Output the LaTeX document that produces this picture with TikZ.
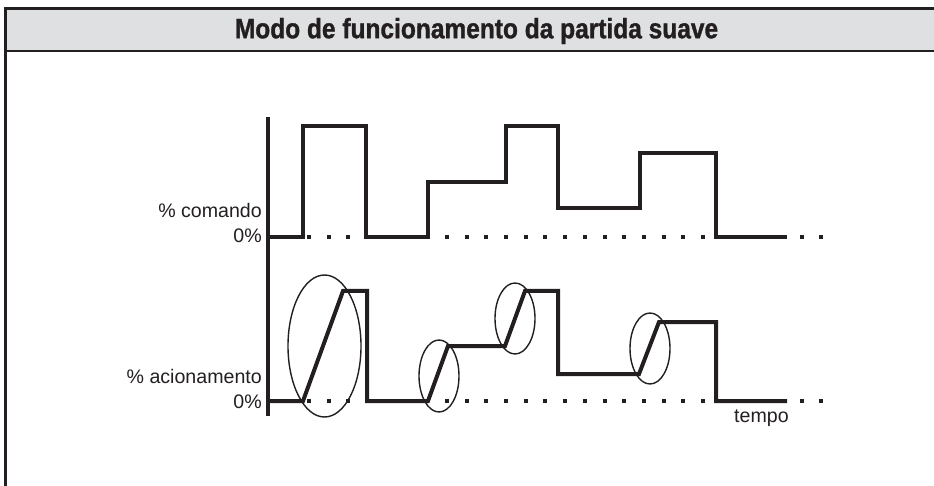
\documentclass[tikz,border=0pt]{standalone}
\usepackage{fontspec}
\setmainfont{Liberation Sans}
\newfontfamily\titlefont[FakeStretch=0.875, BoldFeatures={FakeBold=1.2}]{Liberation Sans}
\definecolor{tinta}{HTML}{231F20}
\definecolor{faixa}{HTML}{DFE0E1}

\begin{document}
\begin{tikzpicture}[x=1pt,y=-1pt]
  \tikzset{
    sinal/.style={
      draw=tinta,
      line width=4pt
    },
    elipse/.style={
      draw=tinta,
      line width=1.4pt
    },
    rotulo/.style={
      inner sep=0pt,
      text=tinta,
      font=\fontsize{19.6}{21}\selectfont
    },
    ponto/.style={
      fill=tinta
    }
  }

  \useasboundingbox (0,0) rectangle (934,486);

  % moldura e titulo
  \fill[faixa] (5.7,8.7) rectangle (934,51);
  \draw[tinta, line width=2.5pt] (934,8.7) -- (5.7,8.7) -- (5.7,486);
  \draw[tinta, line width=2.5pt] (5.7,51) -- (934,51);
  \node[text=tinta, font=\titlefont\bfseries\fontsize{28}{30}\selectfont] (titulo) at (476.5,31)
    {Modo de funcionamento da partida suave};

  % eixo
  \draw[tinta, line width=3.5pt] (268,117) -- (268,416);

  % pontos de referencia
  \foreach \k in {0,...,26} {
    \fill[ponto] ({309+19.7*\k-2},235) rectangle ++(4,4);
    \fill[ponto] ({309+19.7*\k-2},399) rectangle ++(4,4);
  }

  % % comando
  \draw[sinal] (268,237) -- (303,237) -- (303,126) -- (366,126) -- (366,237)
    -- (428,237) -- (428,182) -- (506,182) -- (506,126) -- (558,126)
    -- (558,208) -- (640,208) -- (640,153) -- (716,153) -- (716,237) -- (787,237);

  % % acionamento
  \draw[sinal] (268,401) -- (303,401) -- (343,291) -- (367,291) -- (367,401)
    -- (428,401) -- (448,346) -- (505,346) -- (525,291) -- (558,291)
    -- (558,374) -- (639,374) -- (659,322) -- (716,322) -- (716,401) -- (787,401);

  % rampas
  \draw[elipse] (324.5,346) ellipse [x radius=36.5, y radius=71];
  \draw[elipse] (439,376) ellipse [x radius=20, y radius=36];
  \draw[elipse] (515,318.5) ellipse [x radius=20, y radius=35.5];
  \draw[elipse] (650,348.5) ellipse [x radius=20, y radius=35.5];

  % rotulos
  \node[rotulo, anchor=base east] (comando) at (262,218) {\% comando};
  \node[rotulo, anchor=base east] (zeroc) at (262,243) {0\%};
  \node[rotulo, anchor=base east] (acionamento) at (262,383) {\% acionamento};
  \node[rotulo, anchor=base east] (zeroa) at (262,408) {0\%};
  \node[rotulo, anchor=base west] (tempo) at (734,422) {tempo};
\end{tikzpicture}
\end{document}
